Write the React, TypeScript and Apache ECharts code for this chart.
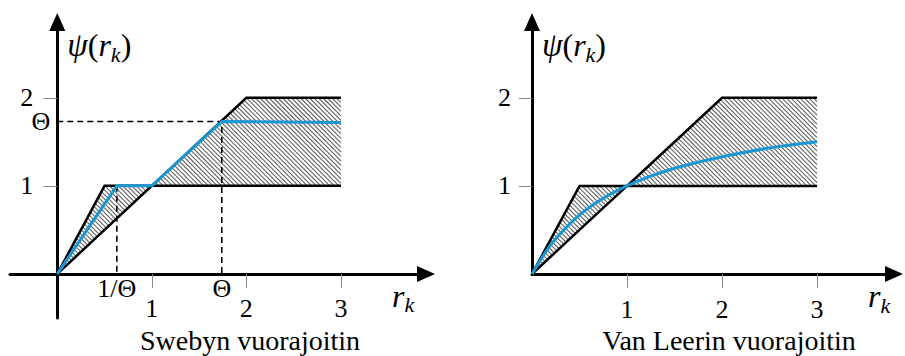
import React, { useEffect, useRef } from 'react';
import * as echarts from 'echarts';

// TVD region bounds (shared by both panels)
const boundR = [0, 0.5, 1, 2, 3];
const lowerBound = [0, 0.5, 1, 1, 1];
const upperBound = [0, 1, 1, 2, 2];

// Sweby limiter
const thetaR = 1.74;
const thetaPsi = 1.73;
const invThetaR = 0.63;
const swebyR = [0, invThetaR, 1, thetaR, 3];
const swebyPsi = [0, 1, 1, thetaPsi, 1.72];

// Van Leer limiter
const vanLeerR = [0, 0.125, 0.25, 0.5, 0.75, 1, 1.25, 1.5, 2, 2.5, 3];
const vanLeerPsi = [0, 0.22, 0.4, 0.67, 0.86, 1, 1.11, 1.2, 1.33, 1.43, 1.5];

// ticks / labels
const xTickValues = [1, 2, 3];
const yTickValues = [1, 2];
const swebyXLabelValues = [invThetaR, 1, thetaR, 2, 3];
const swebyYLabelValues = [2, 1, thetaPsi];
const thetaLabel = 'Θ';
const invThetaLabel = '1/Θ';
const titles = ['Swebyn vuorajoitin', 'Van Leerin vuorajoitin'];

const FONT = 'Liberation Serif';
const BLUE = '#1a96d2';

// left grid geometry
const L_GRID = { left: 10, top: 22, width: 416, height: 296 };
const L_X = [-0.5, 3.9];
const L_Y = [-0.5, 2.86];
const L_UX = L_GRID.width / (L_X[1] - L_X[0]);
const L_UY = L_GRID.height / (L_Y[1] - L_Y[0]);

const nameRich = {
  g: { fontFamily: FONT, fontStyle: 'italic', fontSize: 33, lineHeight: 40, color: '#000' },
  p: { fontFamily: FONT, fontSize: 32, lineHeight: 40, color: '#000' },
  r: { fontFamily: FONT, fontStyle: 'italic', fontSize: 32, lineHeight: 40, color: '#000' },
  k: { fontFamily: FONT, fontStyle: 'italic', fontSize: 22, lineHeight: 16, verticalAlign: 'bottom', color: '#000' },
};

const near = (a: number, b: number) => Math.abs(a - b) < 1e-6;

function hatchRenderItem(params: any, api: any) {
  const n = boundR.length;
  const poly: number[][] = [];
  for (let i = 0; i < n; i++) poly.push(api.coord([boundR[i], upperBound[i]]));
  for (let i = n - 1; i >= 0; i--) poly.push(api.coord([boundR[i], lowerBound[i]]));
  const cs = poly.map((p) => p[1] - p[0]);
  const cmin = Math.min(...cs);
  const cmax = Math.max(...cs);
  const step = 4.5;
  const children: any[] = [];
  for (let c = Math.ceil(cmin / step) * step + 0.01; c <= cmax; c += step) {
    const pts: number[][] = [];
    for (let i = 0; i < poly.length; i++) {
      const a = poly[i];
      const b = poly[(i + 1) % poly.length];
      const fa = a[1] - a[0] - c;
      const fb = b[1] - b[0] - c;
      if ((fa <= 0 && fb > 0) || (fb <= 0 && fa > 0)) {
        const t = fa / (fa - fb);
        pts.push([a[0] + t * (b[0] - a[0]), a[1] + t * (b[1] - a[1])]);
      }
    }
    pts.sort((p, q) => p[0] - q[0]);
    for (let k = 0; k + 1 < pts.length; k += 2) {
      children.push({
        type: 'line',
        shape: { x1: pts[k][0], y1: pts[k][1], x2: pts[k + 1][0], y2: pts[k + 1][1] },
        style: { stroke: '#646464', lineWidth: 1.1 },
      });
    }
  }
  return { type: 'group', children };
}

export default function App() {
  const ref = useRef<HTMLDivElement>(null);
  useEffect(() => {
    document.body.style.margin = '0';
    if (!ref.current) return;
    const chart = echarts.init(ref.current, null, { renderer: 'svg' });

    const axisLine = {
      onZero: false,
      lineStyle: { color: '#000', width: 3 },
      symbol: ['none', 'triangle'],
      symbolSize: [16, 18],
    };
    const tickStyle = { color: '#8a8a8a', width: 1 };

    const bandSeries = (gi: number) => [
      {
        type: 'custom', xAxisIndex: gi, yAxisIndex: gi, silent: true, z: 1,
        data: [[0, 0]],
        renderItem: hatchRenderItem,
      },
      {
        type: 'line', xAxisIndex: gi, yAxisIndex: gi, symbol: 'none', silent: true, z: 3,
        data: boundR.map((r, i) => [r, upperBound[i]]),
        lineStyle: { color: '#000', width: 2.5, join: 'miter' },
      },
      {
        type: 'line', xAxisIndex: gi, yAxisIndex: gi, symbol: 'none', silent: true, z: 3,
        data: boundR.map((r, i) => [r, lowerBound[i]]),
        lineStyle: { color: '#000', width: 2.5, join: 'miter' },
      },
    ];

    const labelCommon = {
      color: '#000', fontFamily: FONT, fontSize: 26,
      hideOverlap: false, showMinLabel: true, showMaxLabel: true,
    };

    const option: any = {
      animation: false,
      backgroundColor: '#fff',
      grid: [
        { ...L_GRID, outerBoundsMode: 'none' },
        { left: 532, top: 22, width: 362, height: 252, outerBoundsMode: 'none' },
      ],
      xAxis: [
        {
          gridIndex: 0, type: 'value', min: L_X[0], max: L_X[1],
          position: 'bottom', offset: L_Y[0] * L_UY,
          axisLine,
          axisTick: { show: true, customValues: xTickValues, length: 14, lineStyle: tickStyle },
          splitLine: { show: false },
          axisLabel: {
            ...labelCommon,
            customValues: swebyXLabelValues, margin: 2,
            formatter: (v: number) => {
              if (near(v, invThetaR)) return '{t|' + invThetaLabel + '}';
              if (near(v, thetaR)) return '{t|' + thetaLabel + '}';
              return '{d|' + v + '}';
            },
            rich: {
              t: { fontFamily: FONT, fontSize: 26, color: '#000' },
              d: { fontFamily: FONT, fontSize: 26, color: '#000', padding: [20, 0, 0, 0] },
            },
          },
          name: '{r|r}{k|k}', nameLocation: 'end', nameGap: -34, nameMoveOverlap: false,
          nameTextStyle: { align: 'left', verticalAlign: 'top', padding: [2, 0, 0, 0], rich: nameRich },
        },
        {
          gridIndex: 1, type: 'value', min: 0, max: 3.81,
          axisLine,
          axisTick: { show: true, customValues: xTickValues, length: 14, lineStyle: tickStyle },
          splitLine: { show: false },
          axisLabel: { ...labelCommon, customValues: xTickValues, margin: 22 },
          name: '{r|r}{k|k}', nameLocation: 'end', nameGap: -26, nameMoveOverlap: false,
          nameTextStyle: { align: 'left', verticalAlign: 'top', padding: [2, 0, 0, 0], rich: nameRich },
        },
      ],
      yAxis: [
        {
          gridIndex: 0, type: 'value', min: L_Y[0], max: L_Y[1],
          position: 'left', offset: L_X[0] * L_UX,
          axisLine,
          axisTick: { show: true, customValues: yTickValues, length: 14, lineStyle: tickStyle },
          splitLine: { show: false },
          axisLabel: {
            ...labelCommon,
            customValues: swebyYLabelValues, margin: 7,
            formatter: (v: number) => (near(v, thetaPsi) ? '{t|' + thetaLabel + '}' : '{d|' + v + '}'),
            rich: {
              t: { fontFamily: FONT, fontSize: 26, color: '#000', lineHeight: 20 },
              d: { fontFamily: FONT, fontSize: 26, color: '#000', lineHeight: 20, padding: [0, 17, 0, 0] },
            },
          },
          name: '{g|ψ}{p|(}{r|r}{k|k}{p|)}', nameLocation: 'end', nameGap: -23, nameMoveOverlap: false,
          nameTextStyle: { align: 'left', verticalAlign: 'middle', padding: [0, 0, 0, 10], rich: nameRich },
        },
        {
          gridIndex: 1, type: 'value', min: 0, max: 2.86,
          axisLine,
          axisTick: { show: true, customValues: yTickValues, length: 13, lineStyle: tickStyle },
          splitLine: { show: false },
          axisLabel: { ...labelCommon, customValues: yTickValues, margin: 21 },
          name: '{g|ψ}{p|(}{r|r}{k|k}{p|)}', nameLocation: 'end', nameGap: -23, nameMoveOverlap: false,
          nameTextStyle: { align: 'left', verticalAlign: 'middle', padding: [0, 0, 0, 10], rich: nameRich },
        },
      ],
      series: [
        ...bandSeries(0),
        ...bandSeries(1),
        {
          type: 'line', xAxisIndex: 0, yAxisIndex: 0, symbol: 'none', silent: true, z: 2,
          data: [[0, thetaPsi], [thetaR, thetaPsi], [thetaR, 0]],
          lineStyle: { color: '#000', width: 1.6, type: [6, 4] },
        },
        {
          type: 'line', xAxisIndex: 0, yAxisIndex: 0, symbol: 'none', silent: true, z: 2,
          data: [[invThetaR, 1], [invThetaR, 0]],
          lineStyle: { color: '#000', width: 1.6, type: [6, 4] },
        },
        {
          type: 'line', xAxisIndex: 0, yAxisIndex: 0, symbol: 'none', silent: true, z: 5,
          data: swebyR.map((r, i) => [r, swebyPsi[i]]),
          lineStyle: { color: BLUE, width: 3, join: 'miter' },
        },
        {
          type: 'line', xAxisIndex: 1, yAxisIndex: 1, symbol: 'none', silent: true, z: 5, smooth: 0.3,
          data: vanLeerR.map((r, i) => [r, vanLeerPsi[i]]),
          lineStyle: { color: BLUE, width: 3 },
        },
      ],
      graphic: [
        {
          type: 'text', x: 250, y: 340,
          style: { text: titles[0], fontFamily: FONT, fontSize: 28, fill: '#000', align: 'center', verticalAlign: 'middle' },
        },
        {
          type: 'text', x: 729, y: 340,
          style: { text: titles[1], fontFamily: FONT, fontSize: 28, fill: '#000', align: 'center', verticalAlign: 'middle' },
        },
      ],
    };
    chart.setOption(option);
    return () => chart.dispose();
  }, []);
  return <div ref={ref} style={{ position: 'absolute', left: 0, top: 0, width: 905, height: 356 }} />;
}
